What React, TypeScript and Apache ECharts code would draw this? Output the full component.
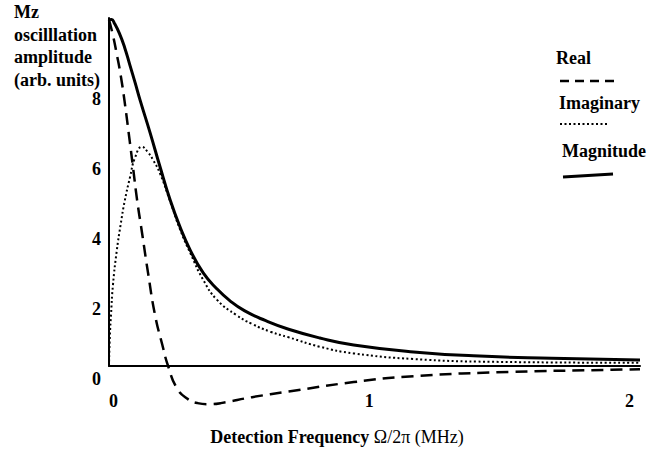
import React, { useEffect, useRef } from "react";
import * as echarts from "echarts";

const realFreq = [0, 0.015, 0.03, 0.045, 0.06, 0.08, 0.092, 0.108, 0.127, 0.15, 0.177, 0.205, 0.227, 0.26, 0.3, 0.34, 0.38, 0.43, 0.55, 0.69, 0.94, 1.17, 1.54, 1.93, 2.04];
const realValues = [9.89, 9.45, 8.9, 8.3, 7.55, 6.4, 5.69, 4.74, 3.8, 2.66, 1.45, 0.6, 0, -0.62, -0.93, -1.06, -1.09, -1.06, -0.89, -0.73, -0.46, -0.29, -0.17, -0.11, -0.09];

const imagFreq = [0, 0.003, 0.008, 0.015, 0.03, 0.045, 0.06, 0.081, 0.1, 0.127, 0.15, 0.169, 0.196, 0.235, 0.273, 0.312, 0.362, 0.415, 0.49, 0.55, 0.62, 0.69, 0.81, 0.94, 1.17, 1.47, 2.04];
const imagValues = [0, 0.8, 1.5, 2.3, 3.3, 4.05, 4.7, 5.4, 5.95, 6.26, 6.1, 5.89, 5.5, 4.7, 3.9, 3.23, 2.46, 1.89, 1.45, 1.2, 0.98, 0.82, 0.55, 0.36, 0.2, 0.12, 0.09];

const magFreq = [0, 0.01, 0.02, 0.04, 0.06, 0.08, 0.1, 0.12, 0.158, 0.196, 0.235, 0.273, 0.312, 0.362, 0.415, 0.465, 0.52, 0.6, 0.69, 0.81, 0.94, 1.17, 1.4, 1.7, 2.04];
const magValues = [9.89, 9.9, 9.8, 9.5, 9.1, 8.6, 8.1, 7.58, 6.66, 5.69, 4.74, 3.97, 3.31, 2.66, 2.2, 1.86, 1.58, 1.3, 1.05, 0.8, 0.6, 0.4, 0.29, 0.22, 0.17];

const xTicks = [0, 1, 2];
const yTicks = [0, 2, 4, 6, 8];
const seriesNames = ["Real", "Imaginary", "Magnitude"];
const yTitle = ["Mz", "oscilllation", "amplitude", "(arb. units)"];

const FONT = "'Liberation Serif', 'Times New Roman', serif";

export default function App() {
  const ref = useRef<HTMLDivElement>(null);
  useEffect(() => {
    if (!ref.current) return;
    const chart = echarts.init(ref.current, null, { renderer: "svg" });
    const pair = (xs: number[], ys: number[]) => xs.map((x, i) => [x, ys[i]]);
    const labelStyle = {
      fontFamily: FONT,
      fontWeight: "bold" as const,
      fontSize: 18,
      color: "#000",
    };
    chart.setOption({
      animation: false,
      backgroundColor: "#fff",
      grid: { left: 109, right: 29, top: 18, height: 348 },
      xAxis: {
        type: "value",
        min: 0,
        max: 2.04,
        interval: 1,
        axisLine: { show: true, onZero: false, lineStyle: { color: "#000", width: 2 } },
        axisTick: { show: false },
        splitLine: { show: false },
        axisLabel: {
          ...labelStyle,
          margin: 26,
          alignMinLabel: "left",
          formatter: (v: number) => (xTicks.includes(v) ? String(v) : ""),
        },
      },
      yAxis: {
        type: "value",
        min: 0,
        max: 9.94,
        interval: 2,
        axisLine: { show: true, lineStyle: { color: "#000", width: 2 } },
        axisTick: { show: false },
        splitLine: { show: false },
        axisLabel: {
          ...labelStyle,
          margin: 8,
          verticalAlign: "top",
          padding: [4, 0, 0, 0],
          formatter: (v: number) => (yTicks.includes(v) ? String(v) : ""),
        },
      },
      series: [
        {
          name: seriesNames[0],
          type: "line",
          data: pair(realFreq, realValues),
          showSymbol: false,
          clip: false,
          smooth: 0.5,
          lineStyle: { color: "#000", width: 2.5, type: [12, 7] },
        },
        {
          name: seriesNames[1],
          type: "line",
          data: pair(imagFreq, imagValues),
          showSymbol: false,
          smooth: 0.5,
          lineStyle: { color: "#000", width: 2, type: [2, 2.5] },
        },
        {
          name: seriesNames[2],
          type: "line",
          data: pair(magFreq, magValues),
          showSymbol: false,
          smooth: 0.5,
          lineStyle: { color: "#000", width: 3 },
        },
      ],
      graphic: [
        {
          type: "text",
          left: 14,
          top: 1,
          style: {
            text: yTitle.join("\n"),
            font: `bold 18px ${FONT}`,
            lineHeight: 22.5,
            fill: "#000",
          },
        },
        {
          type: "text",
          x: 337,
          y: 437,
          style: {
            text: "{b|Detection Frequency }{n|Ω/2π (MHz)}",
            align: "center",
            verticalAlign: "middle",
            rich: {
              b: { fontFamily: FONT, fontWeight: "bold", fontSize: 18, fill: "#000" },
              n: { fontFamily: FONT, fontWeight: "normal", fontSize: 18, fill: "#000" },
            },
          },
        },
        {
          type: "text",
          x: 556,
          y: 58,
          style: { text: seriesNames[0], font: `bold 18px ${FONT}`, fill: "#000", verticalAlign: "middle" },
        },
        {
          type: "line",
          shape: { x1: 560, y1: 81, x2: 617, y2: 81 },
          style: { stroke: "#000", lineWidth: 2.5, lineDash: [9, 6] },
        },
        {
          type: "text",
          x: 559,
          y: 103,
          style: { text: seriesNames[1], font: `bold 18px ${FONT}`, fill: "#000", verticalAlign: "middle" },
        },
        {
          type: "line",
          shape: { x1: 560, y1: 124, x2: 607, y2: 124 },
          style: { stroke: "#000", lineWidth: 2, lineDash: [2, 2.5] },
        },
        {
          type: "text",
          x: 562,
          y: 151,
          style: { text: seriesNames[2], font: `bold 18px ${FONT}`, fill: "#000", verticalAlign: "middle" },
        },
        {
          type: "line",
          shape: { x1: 563, y1: 177, x2: 613, y2: 174 },
          style: { stroke: "#000", lineWidth: 3 },
        },
      ],
    });
    return () => chart.dispose();
  }, []);
  return (
    <div
      ref={ref}
      style={{ position: "fixed", left: 0, top: 0, width: 669, height: 451, background: "#fff" }}
    />
  );
}
